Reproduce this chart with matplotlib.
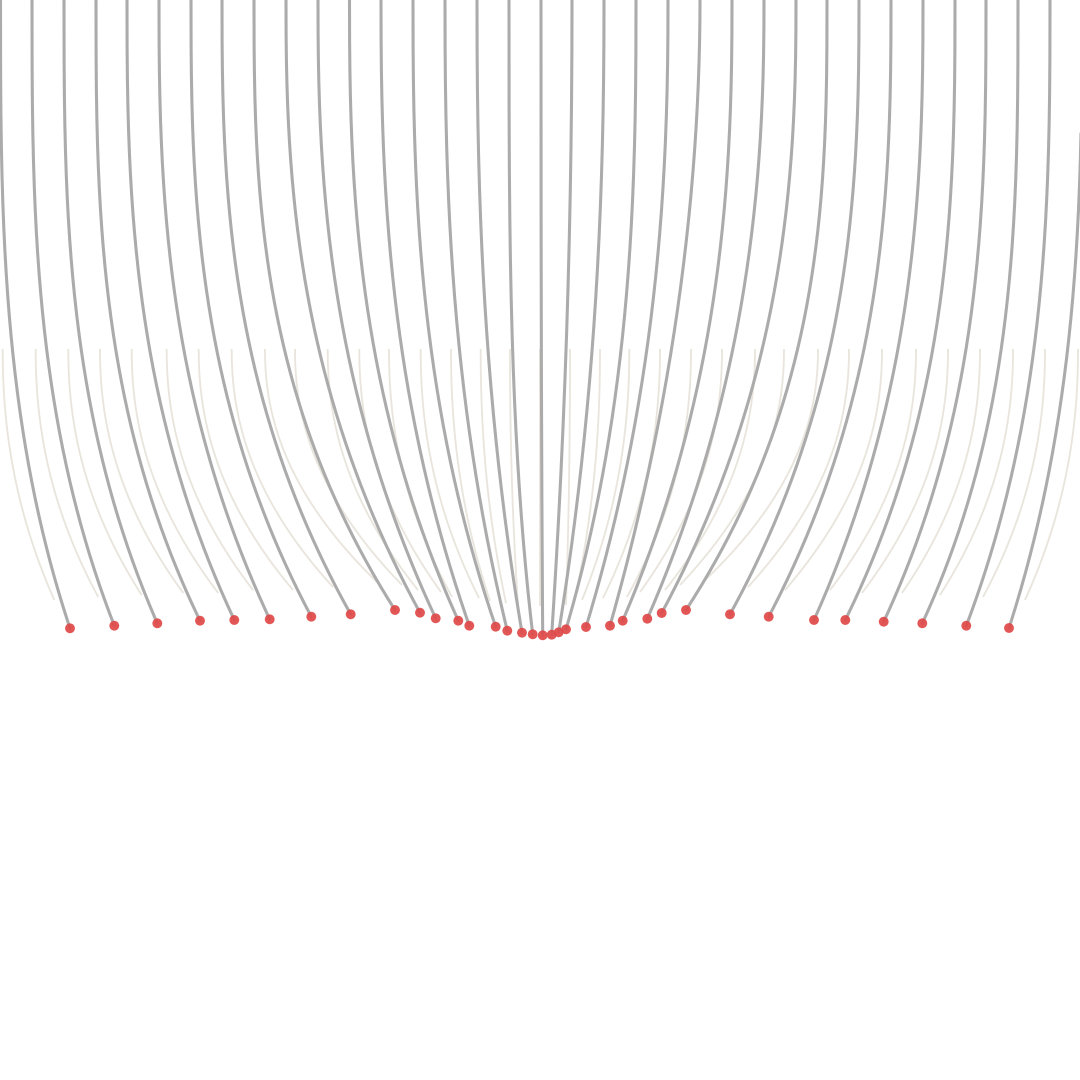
import numpy as np
import matplotlib
matplotlib.use("Agg")
import matplotlib.pyplot as plt

# ---- gray strands: x at the top edge (y=0), x at y=450, and the end point (red dot)
strand_top_x = [0.5, 32, 64, 96, 127, 159, 191, 222, 254, 286, 318, 349.5, 381, 413, 445, 477,
                509, 541, 572, 604, 636, 668, 700, 732, 764, 796, 827, 859, 891, 923, 955, 986,
                1018, 1050, 1082]
strand_mid_x = [26, 63, 100, 137, 172, 207, 242, 278, 315, 348, 372, 397, 420, 448, 472, 497,
                517, 541, 562, 583, 607, 630, 653, 682, 708, 733, 767, 802, 838, 875, 910, 945,
                982, 1017, 1053]
dot_x = [70, 114.3, 157.3, 200, 234.3, 269.7, 311.3, 350.7, 395, 420, 435.7, 458.3, 469.3, 495.7,
         507.3, 522, 532.7, 542.7, 551.7, 558.7, 566, 586, 610, 622.7, 647.3, 661.7, 686, 730,
         768.7, 814, 845.3, 883.7, 922.3, 966.3, 1009]
dot_y = [628.3, 625.7, 623.3, 620.7, 620, 619.3, 616.7, 614.3, 610, 612.7, 618.3, 620.7, 625.7,
         626.7, 630.7, 632.7, 634.3, 635.3, 634.7, 632.3, 629.3, 627, 625.7, 620.7, 618.7, 613,
         610, 614.3, 616.7, 620, 620, 621.7, 623.3, 625.7, 628]
MID_Y = 450

# ---- faint beige strands (previous state): top x (at y=349), end x and end y
ghost_top_x = [2.7, 35.7, 68.3, 100, 131.7, 166.7, 198.7, 231.7, 265, 295, 327.7, 359.3, 389,
               420.7, 451, 480.7, 510, 540, 570, 600, 629.3, 660, 691, 722, 755, 784, 818, 849,
               882, 916, 948, 980, 1013, 1045, 1078]
ghost_end_x = [54.3, 98.3, 141.7, 183.3, 218.3, 253, 293, 333, 377, 402, 418, 441, 452, 479, 490,
               506, 518, 540, 566, 574, 582, 603, 627, 640, 665, 680, 703, 748, 785, 830, 862,
               902, 940, 983, 1025]
ghost_end_y = [600, 597, 595, 593, 593, 590, 590, 587, 582, 585, 590, 592, 597, 598, 601, 603,
               605, 606, 605, 603, 600, 598, 597, 592, 590, 585, 582, 587, 590, 590, 593, 593,
               595, 597, 600]
GHOST_TOP_Y = 349
GHOST_EXP = 2.15

fig = plt.figure(figsize=(10.8, 10.8), dpi=100)
ax = fig.add_axes([0, 0, 1, 1])
ax.set_xlim(0, 1080)
ax.set_ylim(1080, 0)
ax.axis("off")

# beige ghost strands
for tx, ex, ey in zip(ghost_top_x, ghost_end_x, ghost_end_y):
    y = np.linspace(GHOST_TOP_Y, ey, 120)
    s = (y - GHOST_TOP_Y) / (ey - GHOST_TOP_Y)
    x = tx + (ex - tx) * s ** GHOST_EXP
    ax.plot(x, y, color="#e9e5dc", lw=1.3, solid_capstyle="butt", zorder=1)

# gray strands
for tx, mx, ex, ey in zip(strand_top_x, strand_mid_x, dot_x, dot_y):
    D = ex - tx
    frac = (mx - tx) / D if abs(D) > 1e-6 else 0.4
    if frac <= 0.05 or frac >= 0.95 or abs(D) < 6:
        p = 2.7
    else:
        p = np.log(frac) / np.log(MID_Y / ey)
        p = float(np.clip(p, 1.6, 3.6))
    y = np.linspace(0, ey, 300)
    x = tx + D * (y / ey) ** p
    ax.plot(x, y, color="#ababab", lw=2.2, solid_capstyle="round", zorder=2)

ax.scatter(dot_x, dot_y, s=50, color="#e04848", alpha=0.92, edgecolors="none", zorder=3)

fig.savefig("out.png", dpi=100, facecolor="white")
